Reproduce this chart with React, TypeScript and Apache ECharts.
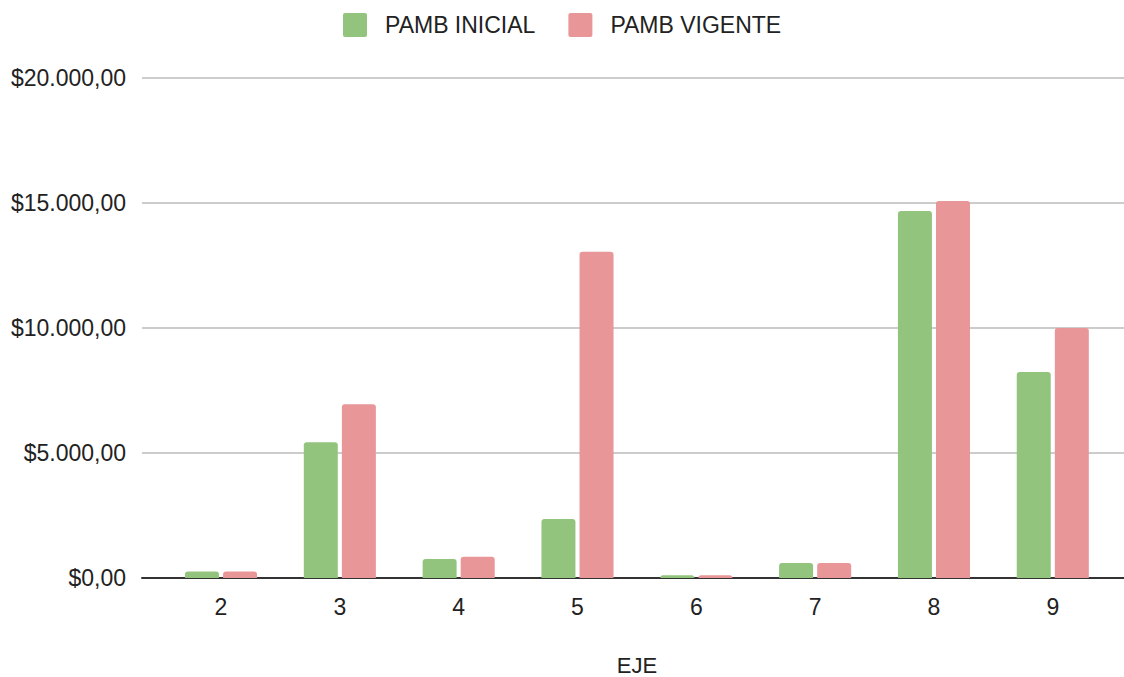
import React, { useEffect, useRef } from "react";
import * as echarts from "echarts";

const categories = ["2", "3", "4", "5", "6", "7", "8", "9"];
const pambInicial = [260, 5430, 760, 2360, 110, 600, 14680, 8240];
const pambVigente = [260, 6950, 850, 13050, 110, 600, 15080, 10000];
const yTicks = [0, 5000, 10000, 15000, 20000];

const fmt = (v: number) => {
  const s = Math.round(v).toString().replace(/\B(?=(\d{3})+(?!\d))/g, ".");
  return "$" + s + ",00";
};

const squareIcon = "path://M2,0 H22 Q24,0 24,2 V22 Q24,24 22,24 H2 Q0,24 0,22 V2 Q0,0 2,0 Z";

export default function App() {
  const ref = useRef<HTMLDivElement>(null);
  useEffect(() => {
    if (!ref.current) return;
    const chart = echarts.init(ref.current, null, { renderer: "svg" });
    const font = "Arial, 'Liberation Sans', sans-serif";
    chart.setOption({
      animation: false,
      textStyle: { fontFamily: font },
      legend: {
        left: 343,
        top: 13,
        padding: 0,
        itemWidth: 24,
        itemHeight: 24,
        itemGap: 33,
        icon: squareIcon,
        textStyle: { fontSize: 23, color: "#222", fontFamily: font, padding: [0, 0, 0, 13] },
        data: ["PAMB INICIAL", "PAMB VIGENTE"],
      },
      grid: [
        { left: 142, right: 0, top: 78, bottom: 99, outerBoundsMode: "none", containLabel: false },
        { left: 161.6, right: 11.8, top: 78, bottom: 99, outerBoundsMode: "none", containLabel: false },
      ],
      xAxis: [
        {
          gridIndex: 0,
          type: "category",
          data: categories,
          axisLine: { show: true, lineStyle: { color: "#333", width: 2 } },
          axisTick: { show: false },
          axisLabel: { show: false },
          splitLine: { show: false },
        },
        {
          gridIndex: 1,
          type: "category",
          data: categories,
          axisLine: { show: false },
          axisTick: { show: false },
          axisLabel: { fontSize: 23, color: "#222", margin: 17, fontFamily: font },
          name: "EJE",
          nameLocation: "middle",
          nameGap: 76,
          nameTextStyle: { fontSize: 22, lineHeight: 22, color: "#222", fontFamily: font },
        },
      ],
      yAxis: [
        {
          gridIndex: 0,
          type: "value",
          min: yTicks[0],
          max: yTicks[yTicks.length - 1],
          interval: 5000,
          axisLine: { show: false },
          axisTick: { show: false },
          axisLabel: {
            fontSize: 23,
            color: "#222",
            margin: 16,
            fontFamily: font,
            formatter: (v: number) => fmt(v),
          },
          splitLine: { lineStyle: { color: "#cccccc", width: 2 } },
        },
        {
          gridIndex: 1,
          type: "value",
          min: yTicks[0],
          max: yTicks[yTicks.length - 1],
          interval: 5000,
          axisLine: { show: false },
          axisTick: { show: false },
          axisLabel: { show: false },
          splitLine: { show: false },
        },
      ],
      series: [
        {
          name: "PAMB INICIAL",
          type: "bar",
          xAxisIndex: 1,
          yAxisIndex: 1,
          data: pambInicial,
          barWidth: 34,
          barGap: "12%",
          itemStyle: { color: "#93c47d", borderRadius: [3, 3, 0, 0] },
          z: 1,
        },
        {
          name: "PAMB VIGENTE",
          type: "bar",
          xAxisIndex: 1,
          yAxisIndex: 1,
          data: pambVigente,
          barWidth: 34,
          barGap: "12%",
          itemStyle: { color: "#e89698", borderRadius: [3, 3, 0, 0] },
          z: 1,
        },
      ],
    });
    return () => chart.dispose();
  }, []);
  return (
    <div
      ref={ref}
      style={{ position: "fixed", left: 0, top: 0, width: 1124, height: 677, background: "#fff" }}
    />
  );
}
